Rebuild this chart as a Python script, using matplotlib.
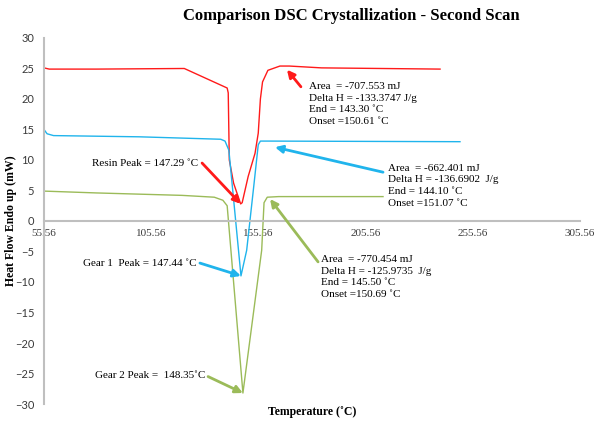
import matplotlib
matplotlib.use('Agg')
import matplotlib.pyplot as plt

plt.rcParams['font.family'] = ['Liberation Serif', 'DejaVu Serif']

# DSC curves (temperature in C, heat flow in mW)
resin_t = [55.56, 58, 80, 121, 141, 141.5, 142, 144, 147.29, 148, 150.8, 154, 155.5, 156.5, 157.5, 160, 165.6, 170, 185, 240.3]
resin_h = [25.1, 24.9, 24.9, 25.0, 21.8, 21.0, 10.0, 6.2, 2.8, 3.0, 7.3, 11.1, 14.4, 20.0, 22.8, 24.7, 25.4, 25.4, 25.1, 24.9]

gear1_t = [55.56, 57, 60, 100, 138, 140, 141.8, 147.44, 150.1, 153.5, 155.5, 156.5, 160, 249.6]
gear1_h = [15.0, 14.3, 14.0, 13.8, 13.4, 13.1, 11.6, -9.0, -4.8, 6.0, 12.5, 13.1, 13.1, 13.0]

gear2_t = [55.56, 80, 120, 135, 139, 141, 141.6, 148.35, 157.1, 158.2, 159.7, 165, 213.7]
gear2_h = [4.9, 4.6, 4.2, 3.9, 3.4, 2.5, 0.0, -28.2, -4.8, 3.0, 3.9, 4.0, 4.0]

xticks = [55.56, 105.56, 155.56, 205.56, 255.56, 305.56]
yticks = list(range(-30, 31, 5))

resin_info = ['Area  = -707.553 mJ', 'Delta H = -133.3747 J/g', 'End = 143.30 \u02daC', 'Onset =150.61 \u02daC']
gear1_info = ['Area  = -662.401 mJ', 'Delta H = -136.6902  J/g', 'End = 144.10 \u02daC', 'Onset =151.07 \u02daC']
gear2_info = ['Area  = -770.454 mJ', 'Delta H = -125.9735  J/g', 'End = 145.50 \u02daC', 'Onset =150.69 \u02daC']

red = '#ff1a1a'
blue = '#20b4ec'
green = '#9bbb59'

fig = plt.figure(figsize=(5.96, 4.23), dpi=100)
ax = fig.add_axes([0.0738, 0.0449, 0.8993, 0.8653])

ax.plot(resin_t, resin_h, color=red, lw=1.0)
ax.plot(gear1_t, gear1_h, color=blue, lw=1.0)
ax.plot(gear2_t, gear2_h, color=green, lw=1.0)

ax.set_xlim(55.56, 305.56)
ax.set_ylim(-30, 30)
ax.set_xticks(xticks)
ax.set_xticklabels(['%.2f' % t for t in xticks])
ax.set_yticks(yticks)
ax.tick_params(length=0, labelsize=8, colors='#3a3a3a')
ax.tick_params(axis='x', pad=6)
ax.tick_params(axis='y', pad=7)
for lab in ax.get_xticklabels() + ax.get_yticklabels():
    lab.set_family(['Lato', 'DejaVu Sans'])

for s in ['top', 'right']:
    ax.spines[s].set_visible(False)
ax.spines['bottom'].set_position(('data', 0))
ax.spines['bottom'].set_color('#bfbfbf')
ax.spines['left'].set_color('#bfbfbf')
ax.spines['bottom'].set_linewidth(1.5)
ax.spines['left'].set_linewidth(1.5)

ax.set_ylabel('Heat Flow Endo up (mW)', fontsize=8.5, fontweight='bold')
ax.yaxis.set_label_coords(-0.051, 0.5)
fig.text(0.523, 0.026, 'Temperature (\u02daC)', fontsize=8.5, fontweight='bold', ha='center', va='center')
fig.text(0.59, 0.962, 'Comparison DSC Crystallization - Second Scan', fontsize=12, fontweight='bold', ha='center', va='center')

def arrow(tip, tail, color):
    ax.annotate('', xy=tip, xytext=tail,
                arrowprops=dict(arrowstyle='-|>', color=color, lw=2, mutation_scale=11,
                                shrinkA=0, shrinkB=0))

# peak labels
arrow((resin_t[8], resin_h[8]), (129.3, 9.5), red)
ax.text(127.6, 9.5, 'Resin Peak = 147.29 \u02daC', fontsize=8, ha='right', va='center')
arrow((gear1_t[7], gear1_h[7]), (128.3, -6.9), blue)
ax.text(126.9, -6.9, 'Gear 1  Peak = 147.44 \u02daC', fontsize=8, ha='right', va='center')
arrow((gear2_t[7], gear2_h[7]), (132.1, -25.5), green)
ax.text(131.0, -25.4, 'Gear 2 Peak =  148.35\u02daC', fontsize=8, ha='right', va='center')

# integration results
arrow((168.9, 24.8), (175.4, 22.0), red)
ax.text(179.2, 22.8, '\n'.join(resin_info), fontsize=8, ha='left', va='top', linespacing=1.38)
arrow((163.3, 12.1), (213.7, 8.0), blue)
ax.text(216.0, 9.4, '\n'.join(gear1_info), fontsize=8, ha='left', va='top', linespacing=1.38)
arrow((161.0, 3.6), (183.4, -6.7), green)
ax.text(184.8, -5.6, '\n'.join(gear2_info), fontsize=8, ha='left', va='top', linespacing=1.38)

fig.savefig('out.png', dpi=100)
